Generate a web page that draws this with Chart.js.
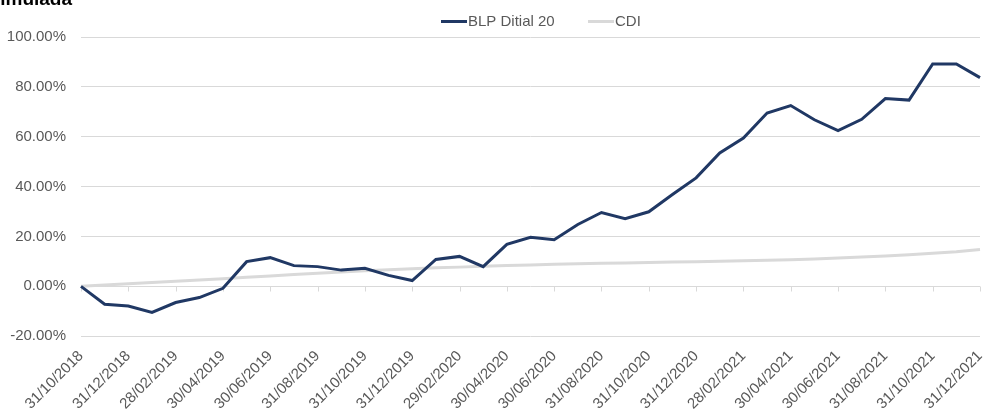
<!DOCTYPE html>
<html>
<head>
<meta charset="utf-8">
<script src="https://cdn.jsdelivr.net/npm/chart.js@4.4.0/dist/chart.umd.min.js"></script>
<style>
  html, body { margin: 0; padding: 0; background: #fff; }
  #wrap { width: 983px; height: 410px; position: relative; }
</style>
</head>
<body>
<div id="wrap"><canvas id="myChart"></canvas></div>
<script>
// Month-end dates (x axis)
const dates = [
  '31/10/2018', '30/11/2018', '31/12/2018',
  '31/01/2019', '28/02/2019', '31/03/2019', '30/04/2019', '31/05/2019', '30/06/2019',
  '31/07/2019', '31/08/2019', '30/09/2019', '31/10/2019', '30/11/2019', '31/12/2019',
  '31/01/2020', '29/02/2020', '31/03/2020', '30/04/2020', '31/05/2020', '30/06/2020',
  '31/07/2020', '31/08/2020', '30/09/2020', '31/10/2020', '30/11/2020', '31/12/2020',
  '31/01/2021', '28/02/2021', '31/03/2021', '30/04/2021', '31/05/2021', '30/06/2021',
  '31/07/2021', '31/08/2021', '30/09/2021', '31/10/2021', '30/11/2021', '31/12/2021'
];

// Cumulative return, %
const blpDitial20 = [
  0, -7.2, -7.9,
  -10.5, -6.5, -4.5, -0.8, 9.9, 11.5, 8.3, 7.9, 6.5, 7.2, 4.4, 2.3,
  10.8, 12.0, 7.9, 16.8, 19.7, 18.7, 24.8, 29.6, 27.1, 29.9, 36.8, 43.5,
  53.5, 59.5, 69.5, 72.5, 66.8, 62.5, 67.0, 75.3, 74.7, 89.2, 89.2, 83.7
];

const cdi = [
  0, 0.5, 1.0,
  1.5, 2.0, 2.5, 3.0, 3.6, 4.1, 4.7, 5.2, 5.7, 6.2, 6.6, 7.0,
  7.4, 7.7, 8.1, 8.4, 8.6, 8.9, 9.1, 9.3, 9.4, 9.6, 9.8, 9.9,
  10.1, 10.3, 10.5, 10.7, 11.0, 11.4, 11.8, 12.2, 12.7, 13.3, 13.9, 14.8
];

const yTicks = [-20, 0, 20, 40, 60, 80, 100];

const FONT = "'Liberation Sans', Arial, sans-serif";
const TEXT = '#595959';
const GRID = '#d9d9d9';

// Cut-off title at the top left, as in the source picture
const titlePlugin = {
  id: 'cutTitle',
  afterDraw(chart) {
    const ctx = chart.ctx;
    ctx.save();
    ctx.font = 'bold 19px ' + FONT;
    ctx.fillStyle = '#000';
    ctx.textAlign = 'right';
    ctx.textBaseline = 'alphabetic';
    ctx.fillText('Rentabilidade Simulada', 72, 5);
    ctx.restore();
  }
};

// Legend drawn from the dataset labels/colours
const legendPlugin = {
  id: 'lineLegend',
  afterDraw(chart) {
    const ctx = chart.ctx;
    const starts = [441, 588];
    const y = 21.5;
    ctx.save();
    ctx.font = '15px ' + FONT;
    ctx.textBaseline = 'middle';
    ctx.textAlign = 'left';
    chart.data.datasets.forEach((ds, i) => {
      const x = starts[i];
      ctx.strokeStyle = ds.borderColor;
      ctx.lineWidth = 3;
      ctx.beginPath();
      ctx.moveTo(x, y);
      ctx.lineTo(x + 26, y);
      ctx.stroke();
      ctx.fillStyle = TEXT;
      ctx.fillText(ds.label, x + 27, y);
    });
    ctx.restore();
  }
};

// Small tick marks on the 0% line, every second month
const zeroTicksPlugin = {
  id: 'zeroTicks',
  beforeDatasetsDraw(chart) {
    const xs = chart.scales.x, ys = chart.scales.y;
    const y0 = Math.round(ys.getPixelForValue(0)) + 0.5;
    const ctx = chart.ctx;
    ctx.save();
    ctx.strokeStyle = GRID;
    ctx.lineWidth = 1;
    ctx.beginPath();
    for (let i = 0; i < dates.length; i += 2) {
      const x = Math.round(xs.getPixelForValue(i)) + 0.5;
      ctx.moveTo(x, y0);
      ctx.lineTo(x, y0 + 5);
    }
    ctx.stroke();
    ctx.restore();
  }
};

const ctx = document.getElementById('myChart').getContext('2d');

const myChart = new Chart(ctx, {
  type: 'line',
  data: {
    labels: dates,
    datasets: [
      {
        label: 'BLP Ditial 20',
        data: blpDitial20,
        borderColor: '#203864',
        borderWidth: 3,
        pointRadius: 0,
        tension: 0,
        order: 1
      },
      {
        label: 'CDI',
        data: cdi,
        borderColor: '#d9d9d9',
        borderWidth: 3,
        pointRadius: 0,
        tension: 0,
        order: 2
      }
    ]
  },
  options: {
    responsive: true,
    maintainAspectRatio: false,
    animation: false,
    layout: { padding: { top: 37, right: 3, bottom: 0, left: 7 } },
    plugins: {
      legend: { display: false },
      tooltip: { enabled: false }
    },
    scales: {
      x: {
        offset: false,
        grid: { display: false, drawTicks: false },
        border: { display: false },
        afterFit: function(scale) {
          // rotated labels fit inside the margins already
          scale.paddingLeft = 0;
          scale.paddingRight = 0;
          scale.height -= 14;
        },
        ticks: {
          autoSkip: false,
          maxRotation: 45,
          minRotation: 45,
          padding: 11,
          color: TEXT,
          font: { family: FONT, size: 15 },
          callback: function(value, index) {
            return index % 2 === 0 ? dates[index] : '';
          }
        }
      },
      y: {
        min: -20,
        max: 100,
        afterBuildTicks: function(axis) {
          axis.ticks = yTicks.map(v => ({ value: v }));
        },
        afterFit: function(scale) {
          scale.width = 74;
        },
        grid: { color: GRID, lineWidth: 1, drawTicks: false },
        border: { display: false },
        ticks: {
          padding: 15,
          color: TEXT,
          font: { family: FONT, size: 15 },
          callback: value => value.toFixed(2) + '%'
        }
      }
    }
  },
  plugins: [zeroTicksPlugin, legendPlugin, titlePlugin]
});
</script>
</body>
</html>
